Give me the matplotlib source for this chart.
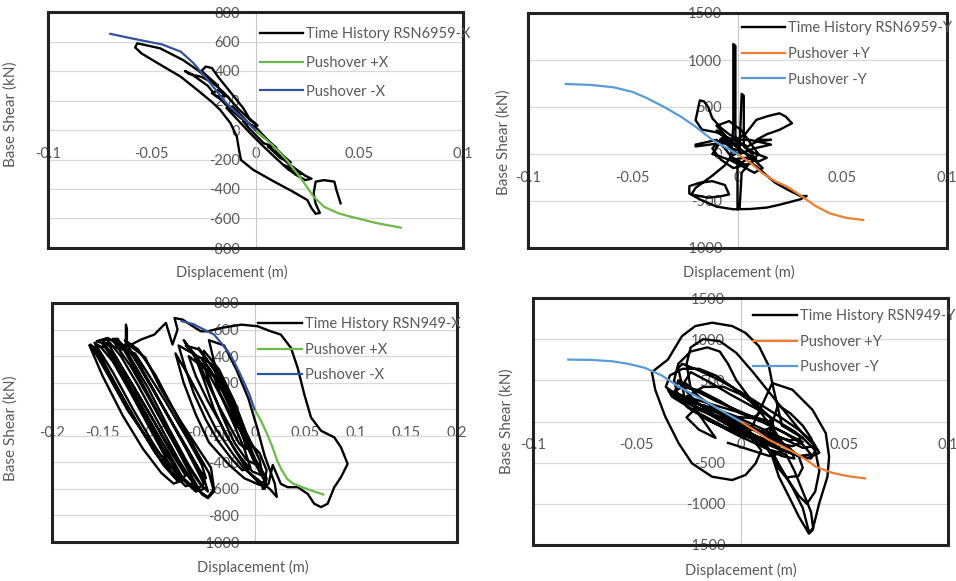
import matplotlib
matplotlib.use("Agg")
import matplotlib.pyplot as plt
from matplotlib.patches import Rectangle

plt.rcParams["font.family"] = ["Lato", "DejaVu Sans"]

TEXT_GRAY = "#595959"
GRID_GRAY = "#d9d9d9"

# ---- top left: RSN6959, X direction ----
po_6959x_pos = [(0.0, 0), (0.008, -100), (0.015, -203), (0.022, -330), (0.028, -452),
                (0.033, -520), (0.040, -565), (0.046, -588), (0.058, -630), (0.070, -662)]
po_6959x_neg = [(-0.070, 652), (-0.060, 622), (-0.054, 605), (-0.045, 580), (-0.036, 531),
                (-0.030, 455), (-0.023, 339), (-0.014, 181), (-0.007, 90), (0.0, 0)]
th_6959x = [
    (0.000, 0), (0.004, -50), (-0.002, 30), (0.006, -70), (0.010, -120), (0.004, -90),
    (-0.003, 10), (-0.006, 60), (0.000, 20), (0.008, -100), (0.013, -170), (0.017, -220),
    (0.012, -190), (0.006, -110), (0.010, -150), (0.016, -230), (0.020, -270), (0.024, -310),
    (0.027, -330), (0.024, -340), (0.019, -300), (0.014, -240), (0.018, -260), (0.022, -300),
    (0.016, -270), (0.009, -180), (0.003, -100), (-0.002, -30), (-0.006, 30), (-0.010, 90),
    (-0.014, 150), (-0.011, 160), (-0.007, 100), (-0.003, 40), (-0.007, 80), (-0.012, 140),
    (-0.017, 210), (-0.021, 250), (-0.018, 270), (-0.014, 230), (-0.019, 230), (-0.023, 300),
    (-0.027, 340), (-0.031, 380), (-0.034, 400), (-0.032, 380), (-0.026, 360), (-0.022, 330),
    (-0.018, 300), (-0.022, 350), (-0.026, 400), (-0.024, 430), (-0.021, 420), (-0.018, 360),
    (-0.014, 290), (-0.010, 220), (-0.006, 150), (-0.003, 80), (0.001, 30), (-0.002, 60),
    (-0.008, 140), (-0.015, 250), (-0.022, 340), (-0.028, 407), (-0.035, 475), (-0.046, 554),
    (-0.057, 588), (-0.058, 560), (-0.055, 520), (-0.047, 452), (-0.036, 361), (-0.028, 271),
    (-0.021, 190), (-0.017, 136), (-0.012, 45), (-0.009, -45), (-0.008, -130), (-0.007, -203),
    (-0.001, -271), (0.009, -350), (0.018, -418), (0.025, -475), (0.027, -530), (0.029, -568),
    (0.031, -562), (0.029, -500), (0.028, -430), (0.029, -350), (0.033, -340), (0.038, -350),
    (0.039, -407), (0.041, -497),
]

# ---- top right: RSN6959, Y direction ----
po_6959y_pos = [(0.0, 0), (0.006, -90), (0.012, -205), (0.018, -290), (0.024, -350),
                (0.031, -454), (0.037, -550), (0.044, -631), (0.052, -680), (0.060, -702)]
po_6959y_neg = [(-0.082, 745), (-0.070, 735), (-0.059, 709), (-0.050, 660), (-0.043, 592),
                (-0.035, 500), (-0.027, 397), (-0.020, 290), (-0.012, 150), (-0.006, 75), (0.0, 0)]
th_6959y = [
    (0.000, 0), (-0.004, 80), (-0.008, 160), (-0.003, 120), (0.002, 40), (0.006, -40),
    (0.002, -90), (-0.003, -30), (-0.002, 300), (-0.002, 1170), (-0.001, 1150), (-0.001, 200),
    (0.001, 60), (0.002, 640), (0.003, 620), (0.003, 80), (0.006, 20), (0.009, -60),
    (0.004, -120), (-0.002, -60), (-0.006, 60), (-0.010, 150), (-0.020, 100), (-0.020, 80),
    (-0.010, 110), (-0.002, 116), (0.004, 90), (-0.004, 170), (-0.010, 230), (-0.017, 260),
    (-0.020, 360), (-0.018, 570), (-0.016, 560), (-0.014, 500), (-0.012, 380), (-0.008, 280),
    (-0.004, 210), (0.000, 160), (0.004, 220), (0.009, 363), (0.014, 400), (0.020, 433),
    (0.023, 398), (0.026, 327), (0.020, 257), (0.014, 210), (0.009, 151), (0.016, 151),
    (0.009, 130), (0.004, 70), (0.008, 10), (0.014, -40), (0.010, -80), (0.004, -40),
    (0.000, -50), (0.000, -588), (0.001, -580), (0.002, -200), (0.006, -90), (0.009, -130),
    (0.014, -230), (0.018, -306), (0.024, -380), (0.030, -447), (0.033, -447), (0.030, -482),
    (0.020, -540), (0.014, -570), (0.006, -585), (-0.002, -588), (-0.010, -560), (-0.018, -482),
    (-0.023, -420), (-0.023, -342), (-0.018, -306), (-0.012, -289), (-0.006, -330),
    (-0.004, -430), (-0.008, -450), (-0.014, -465), (-0.022, -430), (-0.020, -360),
    (-0.012, -230), (-0.006, -120), (-0.003, -20), (0.002, 30), (-0.003, 60), (-0.006, 200),
    (-0.010, 300), (-0.004, 350), (0.002, 250), (0.006, 120), (0.010, 0), (0.006, -100),
    (-0.002, -150), (-0.008, -60), (-0.012, 60), (-0.006, 200), (-0.012, 0), (-0.004, -60),
    (0.004, -150), (0.008, -200), (0.012, -150), (0.006, -20), (-0.002, 100), (-0.010, 250),
    (-0.004, 150), (0.006, 150), (0.016, 100), (0.008, 60), (0.001, 0),
]

# ---- bottom left: RSN949, X direction ----
po_949x_pos = [(0.0, 0), (0.006, -80), (0.0125, -187), (0.018, -290), (0.0224, -387),
               (0.027, -460), (0.0323, -525), (0.038, -560), (0.0454, -582), (0.057, -615),
               (0.068, -642)]
po_949x_neg = [(-0.072, 663), (-0.060, 640), (-0.050, 600), (-0.040, 563), (-0.032, 490),
               (-0.024, 413), (-0.017, 310), (-0.011, 213), (-0.005, 110), (0.0, 0)]
th_949x = [
    (-0.163, 480), (-0.150, 250), (-0.130, -50), (-0.110, -300), (-0.092, -480), (-0.080, -560),
    (-0.072, -540), (-0.085, -400), (-0.103, -150), (-0.122, 120), (-0.140, 360), (-0.152, 470),
    (-0.158, 500), (-0.140, 280), (-0.120, 0), (-0.100, -260), (-0.082, -470), (-0.068, -580),
    (-0.060, -560), (-0.075, -380), (-0.095, -100), (-0.115, 180), (-0.132, 400), (-0.145, 520),
    (-0.150, 520), (-0.130, 260), (-0.110, -30), (-0.090, -300), (-0.072, -520), (-0.058, -620),
    (-0.050, -600), (-0.065, -420), (-0.085, -140), (-0.105, 160), (-0.125, 420), (-0.140, 530),
    (-0.135, 530), (-0.118, 300), (-0.100, 40), (-0.082, -220), (-0.066, -450), (-0.052, -640),
    (-0.046, -670), (-0.040, -620), (-0.045, -480), (-0.060, -280), (-0.080, 0), (-0.098, 260),
    (-0.115, 450), (-0.128, 520), (-0.125, 490), (-0.108, 390), (-0.093, 160), (-0.073, -90),
    (-0.056, -290), (-0.043, -440), (-0.040, -600), (-0.046, -662), (-0.060, -587),
    (-0.079, -462), (-0.102, -262), (-0.125, -12), (-0.145, 262), (-0.162, 487), (-0.155, 440),
    (-0.138, 200), (-0.118, -80), (-0.098, -330), (-0.080, -500), (-0.070, -530), (-0.078, -420),
    (-0.097, -170), (-0.117, 100), (-0.135, 330), (-0.148, 470), (-0.160, 470), (-0.146, 300),
    (-0.128, 60), (-0.108, -200), (-0.090, -420), (-0.076, -540), (-0.068, -500), (-0.082, -330),
    (-0.100, -80), (-0.120, 180), (-0.138, 400), (-0.150, 490), (-0.145, 500), (-0.128, 280),
    (-0.108, 20), (-0.088, -240), (-0.070, -460), (-0.056, -600), (-0.050, -560), (-0.062, -380),
    (-0.080, -120), (-0.100, 150), (-0.120, 400), (-0.132, 500), (-0.140, 520), (-0.122, 320),
    (-0.104, 80), (-0.086, -170), (-0.068, -400), (-0.054, -560), (-0.046, -620), (-0.050, -520),
    (-0.066, -300), (-0.086, -40), (-0.106, 220), (-0.124, 460), (-0.120, 420), (-0.105, 220),
    (-0.088, -20), (-0.070, -260), (-0.055, -450), (-0.048, -520), (-0.052, -420),
    (-0.068, -200), (-0.088, 60), (-0.108, 300), (-0.118, 420), (-0.156, 512), (-0.145, 537),
    (-0.129, 462), (-0.127, 500), (-0.127, 637), (-0.126, 600), (-0.126, 470), (-0.112, 525),
    (-0.099, 562), (-0.0875, 650), (-0.086, 612), (-0.081, 487), (-0.076, 600), (-0.079, 687),
    (-0.071, 675), (-0.060, 620), (-0.053, 587), (-0.046, 587), (-0.033, 612), (-0.013, 637),
    (0.003, 625), (0.016, 587), (0.026, 562), (0.036, 462), (0.0426, 312), (0.0492, 112),
    (0.0558, -62), (0.0657, -162), (0.0788, -212), (0.0854, -287), (0.092, -412), (0.0854, -512),
    (0.0788, -587), (0.0722, -712), (0.0657, -737), (0.059, -712), (0.0525, -637),
    (0.0426, -587), (0.0327, -587), (0.026, -562), (0.018, -420), (0.014, -560), (0.008, -600),
    (0.012, -460), (0.005, -330), (-0.005, -250), (-0.015, -100), (-0.025, 50), (-0.035, 200),
    (-0.045, 520), (-0.030, 480), (-0.018, 300), (-0.006, 80), (0.003, -150), (0.010, -350),
    (0.020, -560), (0.022, -660), (0.015, -600), (-0.010, -450), (-0.022, -330), (-0.038, -150),
    (-0.052, 60), (-0.065, 250), (-0.078, 420), (-0.070, 200), (-0.058, -40), (-0.045, -250),
    (-0.025, -420), (-0.010, -520), (0.005, -570), (0.010, -540), (0.000, -400), (-0.012, -200),
    (-0.025, 50), (-0.040, 300), (-0.055, 450), (-0.068, 480), (-0.060, 420), (-0.050, 220),
    (-0.040, 0), (-0.028, -200), (-0.015, -350), (-0.002, -470), (0.008, -500), (0.005, -380),
    (-0.008, -180), (-0.020, 60), (-0.035, 300), (-0.050, 440), (-0.050, 330), (-0.042, 150),
    (-0.032, -50), (-0.020, -250), (-0.008, -380), (0.002, -420), (-0.005, -260),
    (-0.015, -50), (-0.028, 160), (-0.040, 330), (-0.075, 480), (-0.068, 300), (-0.060, 120),
    (-0.048, -80), (-0.036, -240), (-0.022, -380), (-0.012, -460), (-0.004, -440),
    (-0.010, -300), (-0.020, -120), (-0.032, 80), (-0.046, 280), (-0.060, 420), (-0.070, 520),
    (-0.055, 350), (-0.045, 180), (-0.035, 20), (-0.025, -120), (-0.015, -260), (-0.008, -300),
    (-0.012, -180), (-0.022, -20), (-0.032, 140), (-0.044, 300), (-0.052, 380), (-0.040, 250),
    (-0.034, 120), (-0.026, 0), (-0.018, -120), (-0.010, -200), (-0.016, -60), (-0.024, 80),
    (-0.032, 200), (-0.040, 250), (-0.065, 400), (-0.058, 250), (-0.046, 60), (-0.034, -100),
    (-0.020, -300), (-0.005, -480), (0.010, -600), (0.012, -520), (0.004, -420), (-0.006, -280),
    (-0.016, -100), (-0.026, 100), (-0.040, 300), (-0.055, 460),
]

# ---- bottom right: RSN949, Y direction ----
po_949y_pos = [(0.0, 0), (0.007, -110), (0.0137, -223), (0.020, -300), (0.0266, -386),
               (0.032, -470), (0.0363, -549), (0.044, -622), (0.052, -665), (0.060, -691)]
po_949y_neg = [(-0.083, 752), (-0.072, 748), (-0.062, 732), (-0.054, 700), (-0.046, 651),
               (-0.038, 560), (-0.030, 427), (-0.022, 315), (-0.014, 204), (-0.007, 100), (0.0, 0)]
th_949y = [
    (0.0, 0), (-0.010, 120), (-0.020, 300), (-0.027, 480), (-0.024, 600), (-0.015, 480),
    (-0.005, 330), (0.008, 150), (0.018, 0), (0.026, -120), (0.030, -200), (0.024, -230),
    (0.014, -160), (0.002, -40), (-0.010, 120), (-0.025, 250), (-0.033, 350), (-0.028, 420),
    (-0.020, 380), (-0.010, 250), (0.000, 100), (0.010, 0), (0.020, -120), (0.030, -250),
    (0.025, -300), (0.015, -250), (0.005, -150), (-0.005, -50), (-0.015, 100), (-0.032, 320),
    (-0.030, 500), (-0.022, 380), (-0.012, 250), (0.000, 120), (0.012, -20), (0.022, -150),
    (0.030, -280), (0.034, -400), (0.028, -420), (0.018, -330), (0.008, -230), (-0.004, -120),
    (-0.016, 20), (-0.026, 180), (-0.030, 650), (-0.028, 700), (-0.020, 620), (-0.010, 500),
    (0.000, 360), (0.010, 200), (0.020, 40), (0.028, -100), (0.035, -250), (0.038, -380),
    (0.032, -450), (0.024, -380), (0.012, -250), (0.000, -100), (-0.012, 60), (-0.022, 250),
    (-0.030, 480), (-0.024, 400), (-0.026, 700), (-0.024, 900), (-0.018, 1000), (-0.010, 976),
    (-0.002, 833), (0.006, 600), (0.014, 350), (0.022, 100), (0.030, -150), (0.036, -300),
    (0.030, -320), (0.020, -200), (0.008, -60), (-0.004, 80), (-0.018, 200), (-0.008, 80),
    (0.004, -60), (0.016, -200), (0.024, -330), (0.026, -450), (0.020, -420), (0.010, -300),
    (-0.002, -160), (-0.014, 0), (-0.024, 150), (-0.035, 386), (-0.033, 300), (-0.020, 100),
    (-0.008, -60), (0.004, -180), (0.010, -200), (0.018, -500), (0.025, -800), (0.030, -1050),
    (0.033, -1340), (0.035, -1300), (0.034, -1100), (0.030, -850), (0.026, -600),
    (0.022, -400), (0.015, -350), (0.020, -600), (0.028, -900), (0.032, -1000), (0.036, -850),
    (0.038, -600), (0.036, -350), (0.030, -200), (0.020, -50), (0.0153, 467), (0.0137, 671),
    (0.0089, 915), (0.0024, 1077), (-0.004, 1159), (-0.0137, 1200), (-0.0218, 1159),
    (-0.0282, 1037), (-0.035, 752), (-0.0427, 600), (-0.0411, 386), (-0.0363, 61),
    (-0.0298, -264), (-0.0234, -508), (-0.0137, -671), (-0.004, -711), (0.0024, -650),
    (0.0073, -508), (0.010, -350), (0.004, -150), (0.0153, 467), (0.025, 386), (0.0347, 142),
    (0.0411, -142), (0.0427, -427), (0.0419, -671), (0.0379, -996), (0.0347, -1321),
    (0.033, -1362), (0.0282, -1159), (0.0234, -915), (0.0185, -671), (0.0153, -427),
    (0.012, -300), (-0.030, 300), (-0.032, 500), (-0.030, 700), (-0.024, 850), (-0.016, 900),
    (-0.010, 850), (-0.006, 700), (-0.002, 500), (0.004, 300), (0.010, 100), (0.016, -100),
    (0.020, -250), (0.018, -320), (0.012, -260), (0.004, -120), (-0.006, 20), (-0.016, 120),
    (-0.024, 200), (-0.036, 420), (-0.034, 560), (-0.028, 640), (-0.020, 640), (-0.012, 560),
    (-0.004, 420), (0.004, 260), (0.010, 120), (0.006, 40), (-0.004, 60), (-0.014, 140),
    (-0.024, 260), (-0.032, 360), (0.006, -100), (0.014, -200), (0.022, -300), (0.028, -420),
    (0.030, -560), (0.028, -660), (0.022, -680), (0.018, -560), (0.016, -420), (0.012, -300),
    (0.018, 200), (0.024, 100), (0.030, -50), (0.034, -200), (0.036, -350), (0.034, -450),
    (0.028, -420), (0.022, -300), (0.016, -150), (0.014, 0), (-0.026, 300), (-0.018, 420),
    (-0.008, 420), (0.000, 330), (0.008, 200), (0.014, 60), (0.016, -60), (0.010, -120),
    (0.000, -60), (-0.010, 40), (-0.020, 140), (-0.026, 300), (-0.012, -200), (-0.020, -100),
    (-0.026, 50), (-0.022, 150), (-0.012, 120), (-0.002, 20), (0.008, -100), (0.016, -260),
    (0.020, -380), (0.014, -420), (0.004, -340), (-0.006, -260),
]


def pixel_box(left, top, right, bottom):
    w, h = 956.0, 581.0
    return [left / w, 1 - bottom / h, (right - left) / w, (bottom - top) / h]


def split(points):
    return [p[0] for p in points], [p[1] for p in points]


def draw_panel(fig, box, th, th_name, po_pos, po_neg, pos_name, neg_name,
               pos_color, neg_color, xticks, xlabels, yticks,
               legend_xy, labelspacing, ylabel_xy, xlabel_xy):
    ax = fig.add_axes(box)
    x, y = split(th)
    ax.plot(x, y, color="black", lw=1.7, label=th_name, zorder=3)
    x, y = split(po_pos)
    ax.plot(x, y, color=pos_color, lw=1.6, label=pos_name, zorder=4)
    x, y = split(po_neg)
    ax.plot(x, y, color=neg_color, lw=1.6, label=neg_name, zorder=4)

    ax.set_xlim(xticks[0], xticks[-1])
    ax.set_ylim(yticks[0], yticks[-1])
    ax.set_xticks(xticks, xlabels)
    ax.set_yticks(yticks, [str(v) for v in yticks])
    ax.grid(axis="y", color=GRID_GRAY, lw=0.9)
    ax.set_axisbelow(True)

    # axes cross at zero, like the spreadsheet chart
    ax.spines["left"].set_position(("data", 0))
    ax.spines["bottom"].set_position(("data", 0))
    ax.spines["left"].set_color("#c8c8c8")
    ax.spines["bottom"].set_color(GRID_GRAY)
    ax.spines["top"].set_visible(False)
    ax.spines["right"].set_visible(False)
    ax.tick_params(axis="both", length=0, labelsize=10.5, labelcolor=TEXT_GRAY)
    ax.tick_params(axis="y", pad=11)
    ax.tick_params(axis="x", pad=12)

    ax.add_patch(Rectangle((0, 0), 1, 1, transform=ax.transAxes, fill=False,
                           ec="#222222", lw=2.2, clip_on=False, zorder=10))

    ax.set_xlabel("Displacement (m)", fontsize=10.5, color=TEXT_GRAY)
    ax.set_ylabel("Base Shear (kN)", fontsize=11, color=TEXT_GRAY)
    ax.xaxis.set_label_coords(*xlabel_xy)
    ax.yaxis.set_label_coords(*ylabel_xy)

    leg = ax.legend(loc="upper left", bbox_to_anchor=legend_xy, frameon=False,
                    fontsize=10.5, handlelength=3.0, handletextpad=0.2,
                    labelspacing=labelspacing, borderpad=0, borderaxespad=0)
    for t in leg.get_texts():
        t.set_color(TEXT_GRAY)
    leg.set_zorder(11)
    return ax


fig = plt.figure(figsize=(9.56, 5.81), dpi=100)

x_ticks_01 = [-0.1, -0.05, 0, 0.05, 0.1]
x_labels_01 = ["-0.1", "-0.05", "0", "0.05", "0.1"]
x_ticks_02 = [-0.2, -0.15, -0.1, -0.05, 0, 0.05, 0.1, 0.15, 0.2]
x_labels_02 = ["-0.2", "-0.15", "-0.1", "-0.05", "0", "0.05", "0.1", "0.15", "0.2"]

y_ticks_6959x = [-800, -600, -400, -200, 0, 200, 400, 600, 800]
y_ticks_6959y = [-1000, -500, 0, 500, 1000, 1500]
y_ticks_949x = [-1000, -800, -600, -400, -200, 0, 200, 400, 600, 800]
y_ticks_949y = [-1500, -1000, -500, 0, 500, 1000, 1500]

draw_panel(fig, pixel_box(48, 12, 463, 248), th_6959x, "Time History RSN6959-X",
           po_6959x_pos, po_6959x_neg, "Pushover +X", "Pushover -X",
           "#6cb84a", "#34529c", x_ticks_01, x_labels_01, y_ticks_6959x,
           (0.51, 0.935), 1.0, (-0.072, 0.568), (0.443, -0.072))

draw_panel(fig, pixel_box(528, 13, 947, 248), th_6959y, "Time History RSN6959-Y",
           po_6959y_pos, po_6959y_neg, "Pushover +Y", "Pushover -Y",
           "#ed7d31", "#5b9bd5", x_ticks_01, x_labels_01, y_ticks_6959y,
           (0.51, 0.965), 0.8, (-0.041, 0.45), (0.504, -0.072))

draw_panel(fig, pixel_box(52, 303, 457, 542), th_949x, "Time History RSN949-X",
           po_949x_pos, po_949x_neg, "Pushover +X", "Pushover -X",
           "#6cb84a", "#34529c", x_ticks_02, x_labels_02, y_ticks_949x,
           (0.509, 0.94), 0.78, (-0.084, 0.477), (0.496, -0.075))

draw_panel(fig, pixel_box(533, 298, 948, 545), th_949y, "Time History RSN949-Y",
           po_949y_pos, po_949y_neg, "Pushover +Y", "Pushover -Y",
           "#ed7d31", "#5b9bd5", x_ticks_01, x_labels_01, y_ticks_949y,
           (0.53, 0.955), 0.8, (-0.046, 0.5), (0.5, -0.073))

fig.savefig("out.png", dpi=100)
